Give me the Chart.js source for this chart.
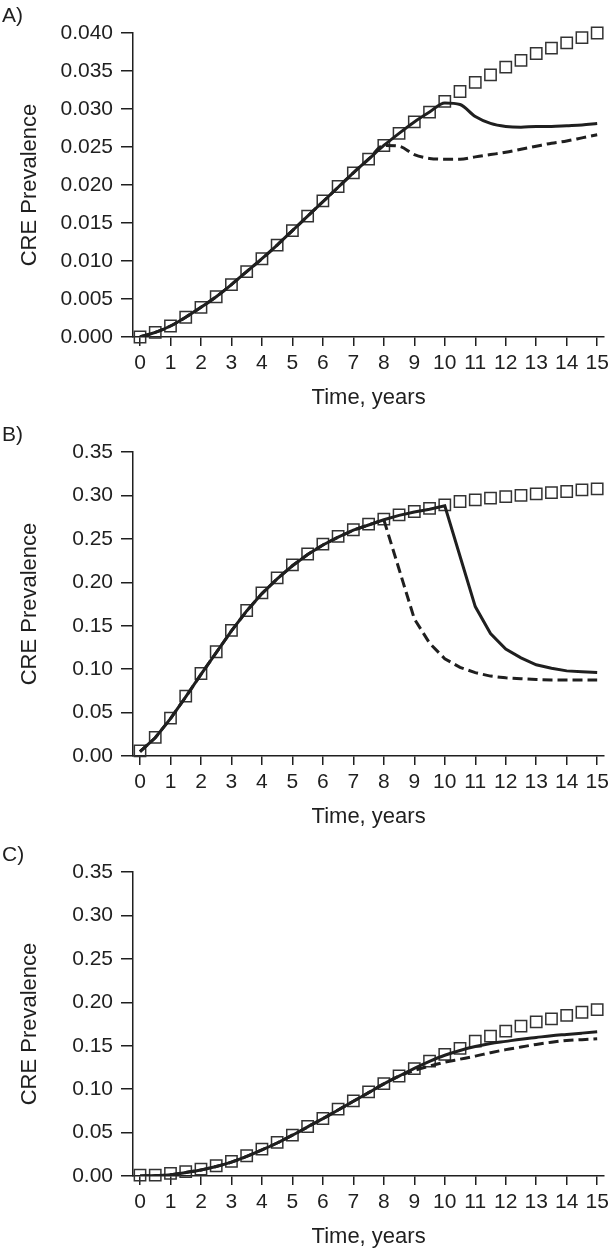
<!DOCTYPE html>
<html>
<head>
<meta charset="utf-8">
<script src="https://cdn.jsdelivr.net/npm/chart.js@4/dist/chart.umd.min.js"></script>
<style>
  html, body { margin: 0; padding: 0; background: #fff; }
  body { width: 614px; height: 1255px; overflow: hidden; position: relative; }
  .panel { position: absolute; left: 0; width: 614px; height: 419px; }
</style>
</head>
<body>
<div class="panel" style="top:0"><canvas id="chartA" width="614" height="419"></canvas></div>
<div class="panel" style="top:419px"><canvas id="chartB" width="614" height="419"></canvas></div>
<div class="panel" style="top:839px"><canvas id="chartC" width="614" height="419"></canvas></div>
<script>
// time points, every half year
const timeYears = [0, 0.5, 1, 1.5, 2, 2.5, 3, 3.5, 4, 4.5, 5, 5.5, 6, 6.5, 7, 7.5,
  8, 8.5, 9, 9.5, 10, 10.5, 11, 11.5, 12, 12.5, 13, 13.5, 14, 14.5, 15];
const xTickYears = [0, 1, 2, 3, 4, 5, 6, 7, 8, 9, 10, 11, 12, 13, 14, 15];

// panel A
const yTicksA = [0, 0.005, 0.01, 0.015, 0.02, 0.025, 0.03, 0.035, 0.04];
const squaresA = [0, 0.0006, 0.00145, 0.0026, 0.0039, 0.0053, 0.0069, 0.0086, 0.0103, 0.0121,
  0.014, 0.0159, 0.0179, 0.0198, 0.0216, 0.0234, 0.0252, 0.0268, 0.0283, 0.0296,
  0.031, 0.0323, 0.0335, 0.0345, 0.0355, 0.0364, 0.0373, 0.038, 0.0387, 0.0394, 0.04];
const solidA = [0, 0.0006, 0.00145, 0.0026, 0.0039, 0.0053, 0.0069, 0.0086, 0.0103, 0.0121,
  0.014, 0.0159, 0.0178, 0.0197, 0.0216, 0.0234, 0.0252, 0.0268, 0.0283, 0.0296,
  0.0308, 0.0306, 0.029, 0.0281, 0.0277, 0.0276, 0.0277, 0.0277, 0.0278, 0.0279, 0.0281];
const dashedA = [0, 0.0006, 0.00145, 0.0026, 0.0039, 0.0053, 0.0069, 0.0086, 0.0103, 0.0121,
  0.014, 0.0159, 0.0178, 0.0197, 0.0216, 0.0234, 0.0252, 0.0251, 0.024, 0.0235,
  0.0234, 0.0234, 0.0237, 0.024, 0.0243, 0.0247, 0.0251, 0.0255, 0.0258, 0.0262, 0.0266];

// panels B and C share the y ticks
const yTicksBC = [0, 0.05, 0.1, 0.15, 0.2, 0.25, 0.3, 0.35];
const squaresB = [0.006, 0.0215, 0.0436, 0.069, 0.095, 0.12, 0.1446, 0.1675, 0.1878, 0.205,
  0.22, 0.2326, 0.244, 0.2528, 0.2605, 0.267, 0.2727, 0.2777, 0.2815, 0.285,
  0.2892, 0.293, 0.2949, 0.2969, 0.2987, 0.3, 0.3018, 0.3033, 0.3045, 0.3064, 0.3075];
const solidB = [0.005, 0.021, 0.043, 0.068, 0.094, 0.119, 0.144, 0.167, 0.187, 0.204,
  0.219, 0.232, 0.243, 0.252, 0.26, 0.266, 0.272, 0.277, 0.281, 0.284,
  0.288, 0.23, 0.172, 0.141, 0.123, 0.113, 0.105, 0.101, 0.098, 0.097, 0.096];
const dashedB = [0.005, 0.021, 0.043, 0.068, 0.094, 0.119, 0.144, 0.167, 0.187, 0.204,
  0.219, 0.232, 0.243, 0.252, 0.26, 0.266, 0.272, 0.215, 0.158, 0.13,
  0.112, 0.102, 0.096, 0.092, 0.09, 0.089, 0.088, 0.0875, 0.0875, 0.0875, 0.0875];

const squaresC = [0.001, 0.001, 0.003, 0.005, 0.008, 0.0118, 0.0168, 0.0233, 0.031, 0.0387,
  0.047, 0.057, 0.0662, 0.0769, 0.0864, 0.0968, 0.1064, 0.1151, 0.1236, 0.1323,
  0.14, 0.1469, 0.1553, 0.161, 0.1668, 0.1725, 0.1775, 0.181, 0.185, 0.1885, 0.1916];
const solidC = [0, 0.0005, 0.0015, 0.004, 0.007, 0.011, 0.016, 0.0225, 0.03, 0.038,
  0.047, 0.0565, 0.066, 0.076, 0.086, 0.096, 0.106, 0.115, 0.124, 0.132,
  0.139, 0.1445, 0.149, 0.1525, 0.155, 0.1575, 0.1595, 0.1615, 0.163, 0.1645, 0.166];
const dashedC = [0, 0.0005, 0.0015, 0.004, 0.007, 0.011, 0.016, 0.0225, 0.03, 0.038,
  0.047, 0.0565, 0.066, 0.076, 0.086, 0.096, 0.106, 0.115, 0.1215, 0.1265,
  0.131, 0.1345, 0.138, 0.142, 0.1455, 0.1485, 0.1515, 0.154, 0.156, 0.157, 0.158];

const ink = '#1f1f1f';
const fontFamily = '"Liberation Sans", Arial, Helvetica, sans-serif';

function pairs(values) {
  return values.map((v, i) => ({x: timeYears[i], y: v}));
}

// draws "A)", "B)", "C)" in the top left corner
const panelLabel = {
  id: 'panelLabel',
  afterDraw(chart, args, opts) {
    const ctx = chart.ctx;
    ctx.save();
    ctx.fillStyle = ink;
    ctx.font = '21px ' + fontFamily;
    ctx.textBaseline = 'middle';
    ctx.textAlign = 'left';
    ctx.fillText(opts.text, 2, 16);
    ctx.restore();
  }
};

function makePanel(id, label, squares, solid, dashed, yTicks, decimals, smooth) {
  const lineStyle = {
    borderColor: ink,
    borderWidth: 3,
    pointRadius: 0,
    fill: false,
    tension: 0,
    cubicInterpolationMode: smooth ? 'monotone' : 'default'
  };
  return new Chart(document.getElementById(id), {
    type: 'line',
    data: {
      datasets: [
        Object.assign({label: 'Intervention (solid)', data: pairs(solid)}, lineStyle),
        Object.assign({label: 'Intervention (dashed)', data: pairs(dashed), borderDash: [10, 5]}, lineStyle),
        {
          label: 'No intervention',
          data: pairs(squares),
          showLine: false,
          pointStyle: 'rect',
          pointRadius: 8,
          pointBorderWidth: 1.5,
          pointBorderColor: '#333333',
          pointBackgroundColor: 'rgba(0,0,0,0)',
          clip: false
        }
      ]
    },
    options: {
      responsive: false,
      devicePixelRatio: 1,
      animation: false,
      events: [],
      layout: {padding: {top: 33, right: 8, left: 0, bottom: 0}},
      plugins: {
        legend: {display: false},
        tooltip: {enabled: false},
        panelLabel: {text: label}
      },
      scales: {
        x: {
          type: 'linear',
          min: -0.23,
          max: 15.23,
          afterBuildTicks: (axis) => { axis.ticks = xTickYears.map(v => ({value: v})); },
          afterFit: (axis) => { axis.height = 82; },
          border: {display: true, color: ink, width: 1.5},
          grid: {drawOnChartArea: false, drawTicks: true, tickLength: 9, tickColor: ink, lineWidth: 1.5},
          ticks: {color: ink, padding: 5, maxRotation: 0, autoSkip: false,
                  font: {family: fontFamily, size: 21}},
          title: {display: true, text: 'Time, years', color: ink,
                  font: {family: fontFamily, size: 22}, padding: {top: 0, bottom: 8}}
        },
        y: {
          min: yTicks[0],
          max: yTicks[yTicks.length - 1],
          afterBuildTicks: (axis) => { axis.ticks = yTicks.map(v => ({value: v})); },
          afterFit: (axis) => { axis.width = 133; },
          border: {display: true, color: ink, width: 1.5},
          grid: {drawOnChartArea: false, drawTicks: true, tickLength: 12, tickColor: ink, lineWidth: 1.5},
          ticks: {color: ink, padding: 8, autoSkip: false,
                  font: {family: fontFamily, size: 21},
                  callback: (v) => Number(v).toFixed(decimals)},
          title: {display: true, text: 'CRE Prevalence', color: ink,
                  font: {family: fontFamily, size: 22}, padding: {top: 17, bottom: 0}}
        }
      }
    },
    plugins: [panelLabel]
  });
}

makePanel('chartA', 'A)', squaresA, solidA, dashedA, yTicksA, 3, true);
makePanel('chartB', 'B)', squaresB, solidB, dashedB, yTicksBC, 2, false);
makePanel('chartC', 'C)', squaresC, solidC, dashedC, yTicksBC, 2, true);
</script>
</body>
</html>
